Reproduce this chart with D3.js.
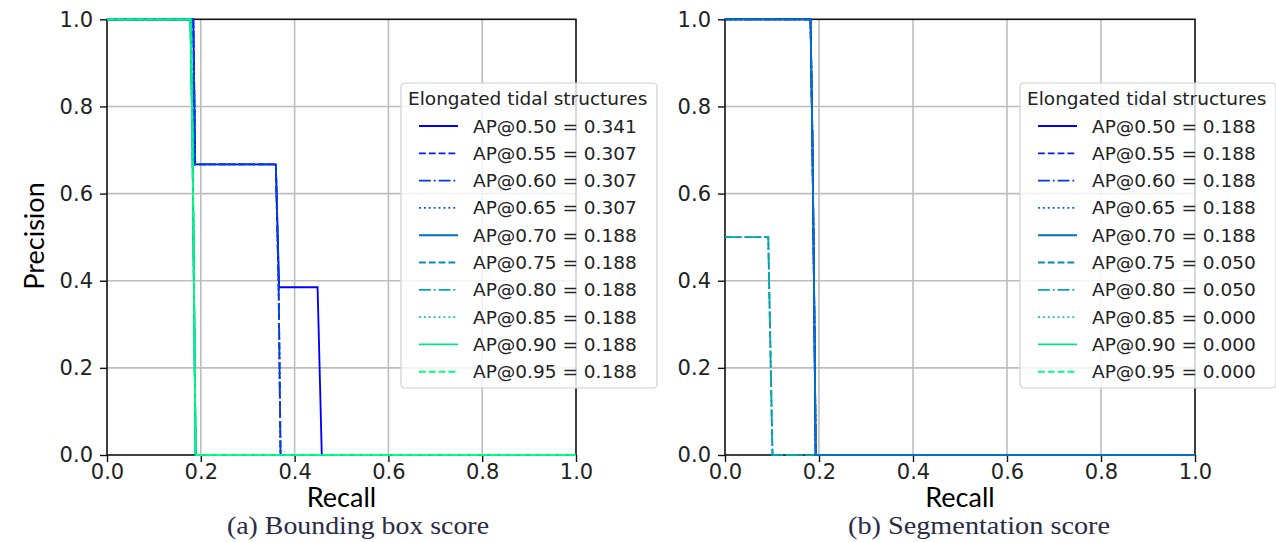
<!DOCTYPE html>
<html>
<head>
<meta charset="utf-8">
<script src="https://cdn.jsdelivr.net/npm/d3@7/dist/d3.min.js"></script>
<style>
  html, body { margin: 0; padding: 0; background: #fff; }
  svg { display: block; }
</style>
</head>
<body>
<svg id="chart" width="1276" height="542"></svg>
<script>
// IoU thresholds shown in each legend
const iouThresholds = ["0.50", "0.55", "0.60", "0.65", "0.70", "0.75", "0.80", "0.85", "0.90", "0.95"];

// Average precision per threshold
const bboxAP = [0.341, 0.307, 0.307, 0.307, 0.188, 0.188, 0.188, 0.188, 0.188, 0.188];
const segmAP = [0.188, 0.188, 0.188, 0.188, 0.188, 0.050, 0.050, 0.000, 0.000, 0.000];

// Precision-recall curves, [recall, precision]
const bboxCurve050 = [[0, 1], [0.184, 1], [0.188, 0.667], [0.360, 0.667], [0.367, 0.385], [0.449, 0.385], [0.458, 0], [1, 0]];
const bboxCurve055 = [[0, 1], [0.184, 1], [0.188, 0.667], [0.360, 0.667], [0.366, 0.385], [0.370, 0], [1, 0]];
const bboxCurve070 = [[0, 1], [0.178, 1], [0.182, 0.75], [0.189, 0], [1, 0]];

const segmCurve050 = [[0, 1], [0.182, 1], [0.186, 0.72], [0.190, 0.33], [0.193, 0], [1, 0]];
const segmCurve075 = [[0, 0.5], [0.092, 0.5], [0.101, 0], [0.190, 0]];
const segmCurve085 = [];

const bboxCurves = [bboxCurve050, bboxCurve055, bboxCurve055, bboxCurve055,
                    bboxCurve070, bboxCurve070, bboxCurve070, bboxCurve070, bboxCurve070, bboxCurve070];
const segmCurves = [segmCurve050, segmCurve050, segmCurve050, segmCurve050, segmCurve050,
                    segmCurve075, segmCurve075, segmCurve085, segmCurve085, segmCurve085];

const recallTicks = [0, 0.2, 0.4, 0.6, 0.8, 1.0];
const precisionTicks = [0, 0.2, 0.4, 0.6, 0.8, 1.0];

const legendTitle = "Elongated tidal structures";
const captions = ["(a) Bounding box score", "(b) Segmentation score"];

// ---- drawing ----
const svg = d3.select("#chart");
svg.append("rect").attr("width", 1276).attr("height", 542).attr("fill", "#fff");

// "winter" colour map: blue -> spring green
const winter = t => d3.rgb(0, Math.round(255 * t), Math.round(255 * (1 - 0.5 * t))).formatHex();
const lw = 1.85;
const dashes = [null, [3.7 * lw, 1.6 * lw], [6.4 * lw, 1.6 * lw, lw, 1.6 * lw], [lw, 1.65 * lw]];
const styleOf = i => ({ color: winter(i / 9), dash: dashes[i % 4] });

const plotTop = 19.3, plotBottom = 455;

const panels = [
  { x0: 107, x1: 576, curves: bboxCurves, ap: bboxAP, legendX: 401, caption: captions[0], capCx: 358 },
  { x0: 725, x1: 1195, curves: segmCurves, ap: segmAP, legendX: 1020, caption: captions[1], capCx: 979 }
];

panels.forEach((p, pi) => {
  const x = d3.scaleLinear().domain([0, 1]).range([p.x0, p.x1]);
  const y = d3.scaleLinear().domain([0, 1]).range([plotBottom, plotTop]);
  const g = svg.append("g");

  // grid
  g.append("g").selectAll("line").data(recallTicks.slice(1, -1)).join("line")
    .attr("x1", d => x(d)).attr("x2", d => x(d)).attr("y1", plotTop).attr("y2", plotBottom)
    .attr("stroke", "#bdbdbd").attr("stroke-width", 1.6);
  g.append("g").selectAll("line").data(precisionTicks.slice(1, -1)).join("line")
    .attr("y1", d => y(d)).attr("y2", d => y(d)).attr("x1", p.x0).attr("x2", p.x1)
    .attr("stroke", "#bdbdbd").attr("stroke-width", 1.6);

  // axes
  const xAxis = d3.axisBottom(x).tickValues(recallTicks).tickFormat(d3.format(".1f")).tickSize(7).tickPadding(2);
  const yAxis = d3.axisLeft(y).tickValues(precisionTicks).tickFormat(d3.format(".1f")).tickSize(7).tickPadding(7);
  const gx = g.append("g").attr("transform", `translate(0,${plotBottom})`).call(xAxis);
  const gy = g.append("g").attr("transform", `translate(${p.x0},0)`).call(yAxis);
  [gx, gy].forEach(a => {
    a.select(".domain").remove();
    a.selectAll(".tick line").attr("stroke", "#111").attr("stroke-width", 1.4);
    a.selectAll(".tick text").attr("fill", "#222")
      .style("font-family", "'DejaVu Sans', sans-serif").style("font-size", "21px");
  });

  // frame
  g.append("rect").attr("x", p.x0).attr("y", plotTop).attr("width", p.x1 - p.x0).attr("height", plotBottom - plotTop)
    .attr("fill", "none").attr("stroke", "#111").attr("stroke-width", 1.6);

  // curves
  const line = d3.line().x(d => x(d[0])).y(d => y(d[1]));
  p.curves.forEach((c, i) => {
    if (!c.length) return;
    const s = styleOf(i);
    g.append("path").attr("d", line(c)).attr("fill", "none")
      .attr("stroke", s.color).attr("stroke-width", lw)
      .attr("stroke-dasharray", s.dash ? s.dash.join(",") : null);
  });

  // legend
  const lg = svg.append("g").attr("transform", `translate(${p.legendX},83)`);
  lg.append("rect").attr("width", 256).attr("height", 305).attr("rx", 4)
    .attr("fill", "#fff").attr("fill-opacity", 0.8).attr("stroke", "#d0d0d0").attr("stroke-width", 1.2);
  lg.append("text").attr("x", 7).attr("y", 21.5).text(legendTitle)
    .attr("fill", "#222").style("font-family", "'DejaVu Sans', sans-serif").style("font-size", "18.5px");
  iouThresholds.forEach((t, i) => {
    const cy = 43 + i * 27.3;
    const s = styleOf(i);
    lg.append("line").attr("x1", 18).attr("x2", 57).attr("y1", cy).attr("y2", cy)
      .attr("stroke", s.color).attr("stroke-width", lw)
      .attr("stroke-dasharray", s.dash ? s.dash.join(",") : null);
    lg.append("text").attr("x", 72).attr("y", cy + 6.5)
      .text(`AP@${t} = ${p.ap[i].toFixed(3)}`)
      .attr("fill", "#222").style("font-family", "'DejaVu Sans', sans-serif").style("font-size", "18.5px");
  });

  // axis titles
  svg.append("text").attr("x", (p.x0 + p.x1) / 2).attr("y", 507).attr("text-anchor", "middle")
    .text("Recall").attr("fill", "#000").style("font-family", "Lato, sans-serif").style("font-size", "27px");
  if (pi === 0) {
    svg.append("text").attr("transform", "translate(44,236) rotate(-90)").attr("text-anchor", "middle")
      .text("Precision").attr("fill", "#000").style("font-family", "Lato, sans-serif").style("font-size", "27px");
  }

  // caption
  svg.append("text").attr("x", p.capCx).attr("y", 534).attr("text-anchor", "middle")
    .text(p.caption).attr("fill", "#2b2b44")
    .attr("textLength", 262).attr("lengthAdjust", "spacingAndGlyphs")
    .style("font-family", "'Liberation Serif', serif").style("font-size", "25px");
});
</script>
</body>
</html>
